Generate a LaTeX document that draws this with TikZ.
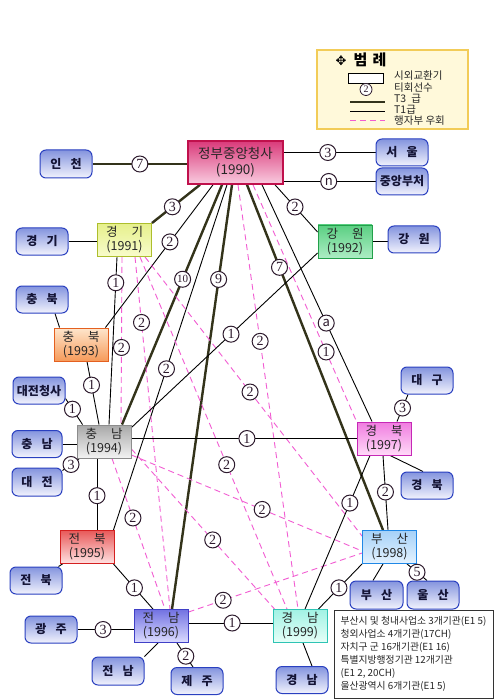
\documentclass[tikz,border=0pt]{standalone}
\usepackage{fontspec}
\setmainfont{Noto Sans CJK KR}
\newfontfamily\serifnum{Liberation Serif}
\newfontfamily\symfnt{DejaVu Sans}
\usetikzlibrary{calc}
\pgfdeclarelayer{background}
\pgfsetlayers{background,main}

\definecolor{t3c}{HTML}{33331A}
\definecolor{pinkc}{HTML}{F25CD2}
\definecolor{labc}{HTML}{2D1A2D}
\definecolor{govT}{HTML}{DA3A7A}
\definecolor{govB}{HTML}{F9CCE0}
\definecolor{govD}{HTML}{C0104C}
\definecolor{locT}{HTML}{8494DE}
\definecolor{locB}{HTML}{F2F3FD}
\definecolor{locD}{HTML}{2A40C0}
\definecolor{locText}{HTML}{141436}
\definecolor{ggT}{HTML}{E6F08C}
\definecolor{ggB}{HTML}{F8FCCC}
\definecolor{ggD}{HTML}{ADBE2C}
\definecolor{gwT}{HTML}{5ACF82}
\definecolor{gwB}{HTML}{ADEDC4}
\definecolor{gwD}{HTML}{22A04A}
\definecolor{cbT}{HTML}{FEE6CC}
\definecolor{cbB}{HTML}{F69A5A}
\definecolor{cbD}{HTML}{E46020}
\definecolor{cnT}{HTML}{A8A8A8}
\definecolor{cnB}{HTML}{F2F2F2}
\definecolor{cnD}{HTML}{8C8C8C}
\definecolor{jbT}{HTML}{E85A5A}
\definecolor{jbB}{HTML}{FFE2E2}
\definecolor{jbD}{HTML}{D42020}
\definecolor{jnT}{HTML}{7272E2}
\definecolor{jnB}{HTML}{DCDCFF}
\definecolor{jnD}{HTML}{4040C6}
\definecolor{gnT}{HTML}{A2F2E4}
\definecolor{gnB}{HTML}{E6FFF8}
\definecolor{gnD}{HTML}{2EC4B4}
\definecolor{gbT}{HTML}{F07CE0}
\definecolor{gbB}{HTML}{FFDAF8}
\definecolor{gbD}{HTML}{C628B6}
\definecolor{bsT}{HTML}{A6D2F8}
\definecolor{bsB}{HTML}{E4F2FF}
\definecolor{bsD}{HTML}{2088E6}
\definecolor{legF}{HTML}{FFF9DA}
\definecolor{legD}{HTML}{F2CC58}

\newcommand{\mygovfont}{\fontsize{13.5}{16}\selectfont}
\newcommand{\myregfont}{\fontsize{12.5}{14}\selectfont}
\newcommand{\mylocfont}{\bfseries\fontsize{12}{14}\selectfont}
\newcommand{\mylabfont}{\serifnum\fontsize{14}{14}\selectfont}
\newcommand{\mylet}[1]{{\rmfamily\fontsize{13}{13}\selectfont #1}}
\newcommand{\mytwo}{\fontsize{11}{11}\selectfont}

\tikzset{
  t3/.style={line width=2.4pt, draw=t3c},
  t1/.style={line width=0.9pt, draw=black},
  dt/.style={line width=0.9pt, draw=pinkc, dash pattern=on 6pt off 4pt},
  lab/.style={circle, draw=labc, line width=1pt, fill=white, inner sep=0pt,
    minimum size=16pt, font=\mylabfont, text=labc},
  govbox/.style={draw=govD, line width=1.6pt, top color=govT, bottom color=govB,
    minimum width=95pt, minimum height=43pt, inner sep=0pt, align=center,
    font=\mygovfont, text=black!85},
  regbox/.style={line width=0.9pt, minimum width=54pt, minimum height=33pt,
    inner sep=0pt, align=center, font=\myregfont, text=black!85},
  locbox/.style={draw=locD, line width=1pt, rounded corners=6pt,
    top color=locT, bottom color=locB, minimum width=52pt, minimum height=27pt,
    inner sep=0pt, font=\mylocfont, text=locText},
  legtext/.style={anchor=west, inner sep=0pt, font=\fontsize{10.5}{10.5}\selectfont, text=black!85}
}

\newcommand{\myconn}[5]{%
  \begin{pgfonlayer}{background}\draw[#1] #2 -- #3;\end{pgfonlayer}%
  \path #2 -- node[lab,pos=#4]{#5} #3;}
\newcommand{\myline}[3]{%
  \begin{pgfonlayer}{background}\draw[#1] #2 -- #3;\end{pgfonlayer}}

\begin{document}
\begin{tikzpicture}[x=1pt,y=-1pt]
\useasboundingbox (0,0) rectangle (502,700);
\begin{pgfonlayer}{background}
\fill[white] (0,0) rectangle (502,700);
\end{pgfonlayer}

% ---------- legend ----------
\node[draw=legD, fill=legF, line width=1.3pt, minimum width=151pt, minimum height=79pt] (legend) at (392.5,89.5) {};
\node[inner sep=0pt, font=\symfnt\fontsize{13}{13}\selectfont] (legsym) at (341,61) {✥};
\node[inner sep=0pt, font=\bfseries\fontsize{15}{15}\selectfont] (legtit) at (370,60) {범\hspace{5pt}례};
\node[draw=black, fill=white, line width=0.8pt, minimum width=35pt, minimum height=10pt, inner sep=0pt] (legbox) at (365.5,78) {};
\node[lab, minimum size=12pt, line width=0.8pt, font=\serifnum\fontsize{10}{10}\selectfont] (legcirc) at (366,89.5) {2};
\coordinate (l3a) at (350,102); \coordinate (l3b) at (385,102);
\coordinate (l1a) at (350,111); \coordinate (l1b) at (385,111);
\coordinate (lda) at (350,120); \coordinate (ldb) at (385,120);
\draw[t3, line width=2pt] (l3a) -- (l3b);
\draw[t1] (l1a) -- (l1b);
\draw[dt] (lda) -- (ldb);
\node[legtext] (lt1) at (394,76) {시외교환기};
\node[legtext] (lt2) at (394,88) {티회선수};
\node[legtext] (lt3) at (394,99) {T3\hspace{5pt}급};
\node[legtext] (lt4) at (394,110) {T1급};
\node[legtext] (lt5) at (394,121) {행자부 우회};

% ---------- main boxes ----------
\node[govbox] (gov) at (235.5,162.5) {정부중앙청사\\(1990)};
\node[regbox, draw=ggD, top color=ggT, bottom color=ggB] (gg) at (124.5,240) {경\hspace{14pt}기\\(1991)};
\node[regbox, draw=gwD, top color=gwT, bottom color=gwB] (gw) at (345,241.5) {강\hspace{14pt}원\\(1992)};
\node[regbox, draw=cbD, top color=cbT, bottom color=cbB] (cb) at (81,344.5) {충\hspace{14pt}북\\(1993)};
\node[regbox, draw=cnD, top color=cnT, bottom color=cnB] (cn) at (104,441.5) {충\hspace{14pt}남\\(1994)};
\node[regbox, draw=jbD, top color=jbT, bottom color=jbB] (jb) at (87,547) {전\hspace{14pt}북\\(1995)};
\node[regbox, draw=jnD, top color=jnT, bottom color=jnB] (jn) at (161,626) {전\hspace{14pt}남\\(1996)};
\node[regbox, draw=gbD, top color=gbT, bottom color=gbB] (gb) at (384,438.5) {경\hspace{14pt}북\\(1997)};
\node[regbox, draw=bsD, top color=bsT, bottom color=bsB] (bs) at (389.5,547) {부\hspace{14pt}산\\(1998)};
\node[regbox, draw=gnD, top color=gnT, bottom color=gnB] (gn) at (300,626) {경\hspace{14pt}남\\(1999)};

% ---------- local exchange boxes ----------
\node[locbox, minimum height=28pt] (incheon) at (66,164) {인\hspace{9pt}천};
\node[locbox] (seoul) at (402,152.5) {서\hspace{9pt}울};
\node[locbox] (central) at (402,181.5) {중앙부처};
\node[locbox] (ggb) at (42,241.5) {경\hspace{9pt}기};
\node[locbox] (gwb) at (414,239.5) {강\hspace{9pt}원};
\node[locbox] (cbb) at (42,299.5) {충\hspace{9pt}북};
\node[locbox] (djc) at (39,390.5) {대전청사};
\node[locbox, minimum width=50pt] (cnb) at (37,444) {충\hspace{9pt}남};
\node[locbox, minimum width=50pt, minimum height=28pt] (djb) at (37,482) {대\hspace{9pt}전};
\node[locbox] (jbb) at (36,580.5) {전\hspace{9pt}북};
\node[locbox] (gj) at (51,629.5) {광\hspace{9pt}주};
\node[locbox, minimum height=28pt] (jnb) at (118,671) {전\hspace{9pt}남};
\node[locbox] (jj) at (197,681) {제\hspace{9pt}주};
\node[locbox] (gnb) at (302,680) {경\hspace{9pt}남};
\node[locbox] (dg) at (427,380.5) {대\hspace{9pt}구};
\node[locbox] (gbb) at (427,485.5) {경\hspace{9pt}북};
\node[locbox, minimum width=53pt, minimum height=28pt] (bsb) at (376.5,595) {부\hspace{9pt}산};
\node[locbox, minimum height=28pt] (us) at (433,595) {울\hspace{9pt}산};

% ---------- info box ----------
\node[draw=black!80, fill=white, line width=0.9pt, minimum width=159pt, minimum height=88pt,
  inner sep=0pt, align=left, font=\fontsize{9.8}{13}\selectfont, text=black!85] (info) at (413.5,654)
  {부산시 및 청내사업소 3개기관(E1 5)\\청외사업소 4개기관(17CH)\\자치구 군 16개기관(E1 16)\\특별지방행정기관 12개기관\\(E1 2, 20CH)\\울산광역시 6개기관(E1 5)};

% ---------- connectors: government complex ----------
\myconn{t3}{(incheon.east)}{(incheon.east -| gov.west)}{0.5}{7}
\myconn{t1}{(seoul.west -| gov.east)}{(seoul.west)}{0.48}{3}
\myconn{t1}{(central.west -| gov.east)}{(central.west)}{0.49}{\mylet{n}}
\myconn{t3}{([xshift=-35.5pt]gov.south)}{(gg.north east)}{0.575}{3}
\myconn{t3}{([xshift=-13.5pt]gov.south)}{([xshift=18pt]cn.north)}{0.394}{\mytwo 10}
\myconn{t3}{([xshift=-3.5pt]gov.south)}{([xshift=11pt]jn.north)}{0.223}{9}
\myconn{t3}{([xshift=11.5pt]gov.south)}{([xshift=-6.5pt]bs.north)}{0.239}{7}
\myconn{t1}{([xshift=39.5pt]gov.south)}{([yshift=9.5pt]gw.west)}{0.47}{2}
\myconn{t1}{([xshift=-22.5pt]gov.south)}{([xshift=-3pt]cb.north east)}{0.40}{2}
\myconn{t1}{([xshift=-8.5pt]gov.south)}{([xshift=-1pt]jb.north east)}{0.533}{2}
\myconn{t1}{([xshift=26.5pt]gov.south)}{([xshift=-12pt]gb.north)}{0.584}{\mylet{a}}
\myconn{dt}{([xshift=17.5pt]gov.south)}{(gb.north west)}{0.706}{1}
\myconn{dt}{([xshift=2.5pt]gov.south)}{([xshift=-2pt]gn.north)}{0.369}{2}

% ---------- Gyeonggi ----------
\myline{t1}{(ggb.east)}{(ggb.east -| gg.west)}
\myconn{t1}{([xshift=-7.5pt]gg.south)}{([xshift=5pt]cn.north)}{0.154}{1}
\myconn{dt}{([xshift=-2.5pt]gg.south)}{([xshift=17pt]cn.north)}{0.54}{2}
\myconn{dt}{([xshift=10.5pt]gg.south)}{([xshift=9pt]jn.north)}{0.186}{2}
\myconn{dt}{([xshift=15.5pt]gg.south)}{([xshift=-13pt]gn.north)}{0.59}{2}
\myconn{dt}{([xshift=20.5pt]gg.south)}{([yshift=-6pt]bs.north west)}{0.484}{2}

% ---------- Gangwon ----------
\myline{t1}{(gw.east)}{(gw.east -| gwb.west)}
\myconn{t1}{([yshift=-11.5pt]gw.west)}{([yshift=-3pt]cn.north east)}{0.465}{1}

% ---------- Chungbuk ----------
\myline{t1}{([xshift=13pt]cbb.south)}{([xshift=6pt]cb.north west)}
\myconn{t1}{([xshift=6pt]cb.south)}{([xshift=-5pt]cn.north)}{0.375}{1}

% ---------- Chungnam ----------
\myconn{t1}{([yshift=6pt]djc.south east)}{([xshift=6pt]cn.north west)}{0.41}{1}
\myline{t1}{(cnb.east)}{(cnb.east -| cn.west)}
\myconn{t1}{([yshift=-3pt]djb.north east)}{([xshift=3pt]cn.south west)}{0.5}{3}
\myconn{t1}{([xshift=-7pt]cn.south)}{([xshift=10pt]jb.north)}{0.52}{1}
\myconn{t1}{(gb.west -| cn.east)}{(gb.west)}{0.513}{1}
\myconn{dt}{([xshift=8pt]cn.south)}{([xshift=4pt]jn.north)}{0.395}{2}
\myconn{dt}{([yshift=-7.5pt]cn.east)}{([xshift=2pt]gn.north west)}{0.568}{2}
\myconn{dt}{([yshift=-13.5pt]cn.east)}{([yshift=-4pt]bs.west)}{0.567}{2}

% ---------- Jeonbuk ----------
\myline{t1}{([xshift=3pt]jb.south west)}{([xshift=-4pt]jbb.north east)}
\myconn{t1}{([xshift=-1pt]jb.south east)}{([xshift=-8pt]jn.north)}{0.53}{1}

% ---------- Jeonnam ----------
\myconn{t1}{(gj.east)}{(gj.east -| jn.west)}{0.456}{3}
\myline{t1}{([xshift=-3pt]jn.south)}{(jnb.north east)}
\myconn{t1}{([xshift=16pt]jn.south)}{([xshift=-4pt]jj.north)}{0.55}{2}
\myconn{t1}{([yshift=3pt]jn.east)}{([yshift=3pt]gn.west)}{0.52}{1}
\myconn{dt}{([yshift=-3pt]jn.north east)}{([yshift=-6pt]bs.west)}{0.2}{2}

% ---------- Gyeongnam ----------
\myline{t1}{([xshift=3pt]gn.south)}{([xshift=10pt]gnb.north)}
\myconn{t1}{([xshift=5pt]gn.north)}{([xshift=-14pt]gb.south)}{0.69}{1}
\myconn{t1}{([xshift=-9pt]gn.north east)}{(bs.south west)}{0.47}{1}

% ---------- Gyeongbuk ----------
\myconn{t1}{([xshift=13pt]gb.north)}{([xshift=-19pt]dg.south)}{0.5}{3}
\myline{t1}{([xshift=6pt]gb.south)}{([xshift=-4pt]gbb.north)}
\myconn{t1}{([xshift=-1pt]gb.south)}{([xshift=-1.5pt]bs.north)}{0.49}{2}

% ---------- Busan ----------
\myline{t1}{([xshift=-6.5pt]bs.south)}{([xshift=-3.5pt]bsb.north)}
\myconn{t1}{([xshift=17.5pt]bs.south)}{([xshift=-6pt]us.north)}{0.5}{5}
\end{tikzpicture}
\end{document}
